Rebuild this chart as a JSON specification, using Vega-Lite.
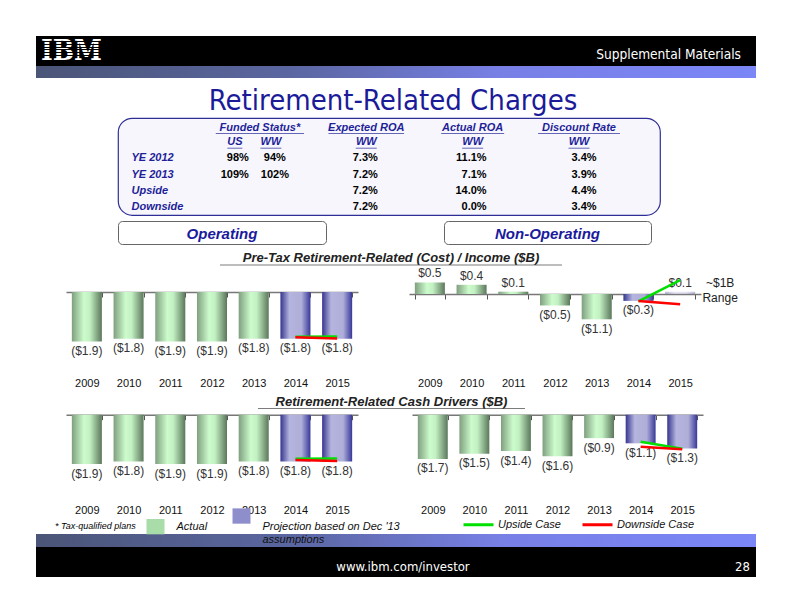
{
"$schema":"https://vega.github.io/schema/vega-lite/v6.json",
"padding":0,
"background":"white",
"config":{"view":{"stroke":null},"font":"Liberation Sans","concat":{"spacing":0},"axis":{"labelFont":"Liberation Sans"},"legend":{"labelFont":"Liberation Sans","titleFont":"Liberation Sans"}},
"datasets":{
"bars":[
{"panel":"Operating pre-tax","year":"2009","value":-1.9,"status":"Actual"},
{"panel":"Operating pre-tax","year":"2010","value":-1.8,"status":"Actual"},
{"panel":"Operating pre-tax","year":"2011","value":-1.9,"status":"Actual"},
{"panel":"Operating pre-tax","year":"2012","value":-1.9,"status":"Actual"},
{"panel":"Operating pre-tax","year":"2013","value":-1.8,"status":"Actual"},
{"panel":"Operating pre-tax","year":"2014","value":-1.8,"status":"Projection based on Dec '13 assumptions"},
{"panel":"Operating pre-tax","year":"2015","value":-1.8,"status":"Projection based on Dec '13 assumptions"},
{"panel":"Non-operating pre-tax","year":"2009","value":0.5,"status":"Actual"},
{"panel":"Non-operating pre-tax","year":"2010","value":0.4,"status":"Actual"},
{"panel":"Non-operating pre-tax","year":"2011","value":0.1,"status":"Actual"},
{"panel":"Non-operating pre-tax","year":"2012","value":-0.5,"status":"Actual"},
{"panel":"Non-operating pre-tax","year":"2013","value":-1.1,"status":"Actual"},
{"panel":"Non-operating pre-tax","year":"2014","value":-0.3,"status":"Projection based on Dec '13 assumptions"},
{"panel":"Non-operating pre-tax","year":"2015","value":0.1,"status":"Projection based on Dec '13 assumptions"},
{"panel":"Operating cash","year":"2009","value":-1.9,"status":"Actual"},
{"panel":"Operating cash","year":"2010","value":-1.8,"status":"Actual"},
{"panel":"Operating cash","year":"2011","value":-1.9,"status":"Actual"},
{"panel":"Operating cash","year":"2012","value":-1.9,"status":"Actual"},
{"panel":"Operating cash","year":"2013","value":-1.8,"status":"Actual"},
{"panel":"Operating cash","year":"2014","value":-1.8,"status":"Projection based on Dec '13 assumptions"},
{"panel":"Operating cash","year":"2015","value":-1.8,"status":"Projection based on Dec '13 assumptions"},
{"panel":"Non-operating cash","year":"2009","value":-1.7,"status":"Actual"},
{"panel":"Non-operating cash","year":"2010","value":-1.5,"status":"Actual"},
{"panel":"Non-operating cash","year":"2011","value":-1.4,"status":"Actual"},
{"panel":"Non-operating cash","year":"2012","value":-1.6,"status":"Actual"},
{"panel":"Non-operating cash","year":"2013","value":-0.9,"status":"Actual"},
{"panel":"Non-operating cash","year":"2014","value":-1.1,"status":"Projection based on Dec '13 assumptions"},
{"panel":"Non-operating cash","year":"2015","value":-1.3,"status":"Projection based on Dec '13 assumptions"}
],
"cases":[
{"panel":"Operating pre-tax","year":"2014","value":-1.72,"case":"Upside Case"},
{"panel":"Operating pre-tax","year":"2015","value":-1.71,"case":"Upside Case"},
{"panel":"Operating pre-tax","year":"2014","value":-1.74,"case":"Downside Case"},
{"panel":"Operating pre-tax","year":"2015","value":-1.79,"case":"Downside Case"},
{"panel":"Non-operating pre-tax","year":"2014","value":-0.32,"case":"Upside Case"},
{"panel":"Non-operating pre-tax","year":"2015","value":0.6,"case":"Upside Case"},
{"panel":"Non-operating pre-tax","year":"2014","value":-0.3,"case":"Downside Case"},
{"panel":"Non-operating pre-tax","year":"2015","value":-0.45,"case":"Downside Case"},
{"panel":"Operating cash","year":"2014","value":-1.69,"case":"Upside Case"},
{"panel":"Operating cash","year":"2015","value":-1.68,"case":"Upside Case"},
{"panel":"Operating cash","year":"2014","value":-1.74,"case":"Downside Case"},
{"panel":"Operating cash","year":"2015","value":-1.78,"case":"Downside Case"},
{"panel":"Non-operating cash","year":"2014","value":-1.04,"case":"Upside Case"},
{"panel":"Non-operating cash","year":"2015","value":-1.31,"case":"Upside Case"},
{"panel":"Non-operating cash","year":"2014","value":-1.23,"case":"Downside Case"},
{"panel":"Non-operating cash","year":"2015","value":-1.33,"case":"Downside Case"}
],
"table":[
{"kind":"head","row":"h1","col":"Funded Status*","sub":"","t":"Funded Status*"},
{"kind":"head","row":"h1","col":"Expected ROA","sub":"","t":"Expected ROA"},
{"kind":"head","row":"h1","col":"Actual ROA","sub":"","t":"Actual ROA"},
{"kind":"head","row":"h1","col":"Discount Rate","sub":"","t":"Discount Rate"},
{"kind":"sub","row":"h2","col":"Funded Status*","sub":"US","t":"US"},
{"kind":"sub","row":"h2","col":"Funded Status*","sub":"WW","t":"WW"},
{"kind":"sub","row":"h2","col":"Expected ROA","sub":"WW","t":"WW"},
{"kind":"sub","row":"h2","col":"Actual ROA","sub":"WW","t":"WW"},
{"kind":"sub","row":"h2","col":"Discount Rate","sub":"WW","t":"WW"},
{"kind":"label","row":"YE 2012","col":"Scenario","sub":"","t":"YE 2012"},
{"kind":"label","row":"YE 2013","col":"Scenario","sub":"","t":"YE 2013"},
{"kind":"label","row":"Upside","col":"Scenario","sub":"","t":"Upside"},
{"kind":"label","row":"Downside","col":"Scenario","sub":"","t":"Downside"},
{"kind":"val","row":"YE 2012","col":"Funded Status*","sub":"US","t":"98%"},
{"kind":"val","row":"YE 2012","col":"Funded Status*","sub":"WW","t":"94%"},
{"kind":"val","row":"YE 2012","col":"Expected ROA","sub":"WW","t":"7.3%"},
{"kind":"val","row":"YE 2012","col":"Actual ROA","sub":"WW","t":"11.1%"},
{"kind":"val","row":"YE 2012","col":"Discount Rate","sub":"WW","t":"3.4%"},
{"kind":"val","row":"YE 2013","col":"Funded Status*","sub":"US","t":"109%"},
{"kind":"val","row":"YE 2013","col":"Funded Status*","sub":"WW","t":"102%"},
{"kind":"val","row":"YE 2013","col":"Expected ROA","sub":"WW","t":"7.2%"},
{"kind":"val","row":"YE 2013","col":"Actual ROA","sub":"WW","t":"7.1%"},
{"kind":"val","row":"YE 2013","col":"Discount Rate","sub":"WW","t":"3.9%"},
{"kind":"val","row":"Upside","col":"Expected ROA","sub":"WW","t":"7.2%"},
{"kind":"val","row":"Upside","col":"Actual ROA","sub":"WW","t":"14.0%"},
{"kind":"val","row":"Upside","col":"Discount Rate","sub":"WW","t":"4.4%"},
{"kind":"val","row":"Downside","col":"Expected ROA","sub":"WW","t":"7.2%"},
{"kind":"val","row":"Downside","col":"Actual ROA","sub":"WW","t":"0.0%"},
{"kind":"val","row":"Downside","col":"Discount Rate","sub":"WW","t":"3.4%"}
]
},
"spacing":0,
"vconcat":[
{"width":792,"height":36,"data":{"values":[]},"mark":"point"},
{"spacing":0,"bounds":"flush","hconcat":[
 {"width":36,"height":30,"data":{"values":[]},"mark":"point"},
 {"width":720,"height":30,"view":{"fill":"#000000","stroke":null},
  "data":{"values":[{"t":"IBM"},{"t":"Supplemental Materials"}]},
  "encoding":{"x":{"field":"t","type":"nominal","scale":{"type":"point","domain":["IBM","Supplemental Materials"],"padding":0},"axis":null},"text":{"field":"t"}},
  "layer":[
   {"transform":[{"filter":"datum.t == 'IBM'"}],"mark":{"type":"text","align":"left","baseline":"middle","dx":5,"dy":1,"font":"DejaVu Serif Condensed, DejaVu Serif","fontWeight":"bold","fontSize":28,
     "fill":{"gradient":"linear","x1":0,"y1":0,"x2":0,"y2":1,"stops":[{"offset":0,"color":"#ffffff"},{"offset":0.2243,"color":"#ffffff"},{"offset":0.2243,"color":"#000000"},{"offset":0.2515,"color":"#000000"},{"offset":0.2515,"color":"#ffffff"},{"offset":0.3058,"color":"#ffffff"},{"offset":0.3058,"color":"#000000"},{"offset":0.333,"color":"#000000"},{"offset":0.333,"color":"#ffffff"},{"offset":0.3873,"color":"#ffffff"},{"offset":0.3873,"color":"#000000"},{"offset":0.4145,"color":"#000000"},{"offset":0.4145,"color":"#ffffff"},{"offset":0.4688,"color":"#ffffff"},{"offset":0.4688,"color":"#000000"},{"offset":0.496,"color":"#000000"},{"offset":0.496,"color":"#ffffff"},{"offset":0.5503,"color":"#ffffff"},{"offset":0.5503,"color":"#000000"},{"offset":0.5775,"color":"#000000"},{"offset":0.5775,"color":"#ffffff"},{"offset":0.6318,"color":"#ffffff"},{"offset":0.6318,"color":"#000000"},{"offset":0.659,"color":"#000000"},{"offset":0.659,"color":"#ffffff"},{"offset":0.7133,"color":"#ffffff"},{"offset":0.7133,"color":"#000000"},{"offset":0.7405,"color":"#000000"},{"offset":0.7405,"color":"#ffffff"},{"offset":1,"color":"#ffffff"}]}}},
   {"transform":[{"filter":"datum.t != 'IBM'"}],"mark":{"type":"text","align":"right","baseline":"middle","dx":-15,"dy":4,"font":"DejaVu Sans Condensed, Liberation Sans","fontSize":13.6,"color":"#ffffff"}}
  ]}
]},
{"spacing":0,"bounds":"flush","hconcat":[
 {"width":36,"height":12,"data":{"values":[]},"mark":"point"},
 {"width":720,"height":12,"view":{"stroke":null,"fill":{"gradient":"linear","x1":0,"y1":0,"x2":1,"y2":0,"stops":[{"offset":0,"color":"#4b5578"},{"offset":0.35,"color":"#5a66a0"},{"offset":0.65,"color":"#7880e6"},{"offset":1,"color":"#7b86f7"}]}},"data":{"values":[]},"mark":"point"}
]},
{"spacing":0,"bounds":"flush","hconcat":[
 {"width":36,"height":39,"data":{"values":[]},"mark":"point"},
 {"width":720,"height":39,"data":{"values":[{"t":"Retirement-Related Charges"}]},"mark":{"type":"text","baseline":"alphabetic","dx":-3,"dy":12.2,"font":"DejaVu Sans Condensed, Liberation Sans","fontSize":29,"color":"#1b1b9a"},"encoding":{"text":{"field":"t"}}}
]},
{"spacing":0,"bounds":"flush","hconcat":[
 {"width":118,"height":97,"data":{"values":[]},"mark":"point"},
 {"width":542,"height":97,
  "view":{"fill":"#f6f6fc","stroke":"#2e2e96","strokeWidth":1.2,"cornerRadius":14},
  "data":{"name":"table"},
  "transform":[{"calculate":"datum.t == 'WW' ? 21 : datum.t == 'US' ? 15 : length(datum.t) * 6.3","as":"uw"}],
  "encoding":{
   "x":{"field":"col","type":"nominal","scale":{"type":"point","domain":["Scenario","Funded Status*","Expected ROA","Actual ROA","Discount Rate"],"range":[36.5,462],"padding":0},"axis":null},
   "y":{"field":"row","type":"nominal","scale":{"type":"point","domain":["h1","h2","YE 2012","YE 2013","Upside","Downside"],"range":[9.5,90.5],"padding":0},"axis":null}
  },
  "layer":[
   {"transform":[{"filter":"datum.kind == 'head'"}],"mark":{"type":"text","fontSize":11,"fontWeight":"bold","fontStyle":"italic","color":"#1f1f99","dx":-1},"encoding":{"text":{"field":"t"}}},
   {"transform":[{"filter":"datum.kind == 'head'"}],"mark":{"type":"tick","orient":"horizontal","thickness":1,"color":"#2a2a9a","xOffset":-1,"yOffset":6},"encoding":{"size":{"field":"uw","type":"quantitative","scale":null}}},
   {"transform":[{"filter":"datum.kind == 'sub' && datum.sub == 'US'"}],"mark":{"type":"text","fontSize":11,"fontWeight":"bold","fontStyle":"italic","color":"#1f1f99","dx":-26,"dy":-1.5},"encoding":{"text":{"field":"t"}}},
   {"transform":[{"filter":"datum.kind == 'sub' && datum.sub == 'US'"}],"mark":{"type":"tick","orient":"horizontal","thickness":1,"color":"#2a2a9a","xOffset":-26,"yOffset":4.5},"encoding":{"size":{"field":"uw","type":"quantitative","scale":null}}},
   {"transform":[{"filter":"datum.kind == 'sub' && datum.sub == 'WW' && datum.col == 'Funded Status*'"}],"mark":{"type":"text","fontSize":11,"fontWeight":"bold","fontStyle":"italic","color":"#1f1f99","dx":10,"dy":-1.5},"encoding":{"text":{"field":"t"}}},
   {"transform":[{"filter":"datum.kind == 'sub' && datum.sub == 'WW' && datum.col == 'Funded Status*'"}],"mark":{"type":"tick","orient":"horizontal","thickness":1,"color":"#2a2a9a","xOffset":10,"yOffset":4.5},"encoding":{"size":{"field":"uw","type":"quantitative","scale":null}}},
   {"transform":[{"filter":"datum.kind == 'sub' && datum.col != 'Funded Status*'"}],"mark":{"type":"text","fontSize":11,"fontWeight":"bold","fontStyle":"italic","color":"#1f1f99","dx":-1,"dy":-1.5},"encoding":{"text":{"field":"t"}}},
   {"transform":[{"filter":"datum.kind == 'sub' && datum.col != 'Funded Status*'"}],"mark":{"type":"tick","orient":"horizontal","thickness":1,"color":"#2a2a9a","xOffset":-1,"yOffset":4.5},"encoding":{"size":{"field":"uw","type":"quantitative","scale":null}}},
   {"transform":[{"filter":"datum.kind == 'label'"}],"mark":{"type":"text","align":"left","fontSize":11,"fontWeight":"bold","fontStyle":"italic","color":"#1f1f99","dx":-23,"dy":-1.5},"encoding":{"text":{"field":"t"}}},
   {"transform":[{"filter":"datum.kind == 'val' && datum.sub == 'US'"}],"mark":{"type":"text","align":"right","fontSize":11,"fontWeight":"bold","color":"#000000","dx":-12,"dy":-1.5},"encoding":{"text":{"field":"t"}}},
   {"transform":[{"filter":"datum.kind == 'val' && datum.sub == 'WW' && datum.col == 'Funded Status*'"}],"mark":{"type":"text","fontSize":11,"fontWeight":"bold","color":"#000000","dx":14,"dy":-1.5},"encoding":{"text":{"field":"t"}}},
   {"transform":[{"filter":"datum.kind == 'val' && datum.col == 'Expected ROA'"}],"mark":{"type":"text","fontSize":11,"fontWeight":"bold","color":"#000000","dx":-2,"dy":-1.5},"encoding":{"text":{"field":"t"}}},
   {"transform":[{"filter":"datum.kind == 'val' && datum.col == 'Actual ROA'"}],"mark":{"type":"text","align":"right","fontSize":11,"fontWeight":"bold","color":"#000000","dx":13,"dy":-1.5},"encoding":{"text":{"field":"t"}}},
   {"transform":[{"filter":"datum.kind == 'val' && datum.col == 'Discount Rate'"}],"mark":{"type":"text","fontSize":11,"fontWeight":"bold","color":"#000000","dx":4,"dy":-1.5},"encoding":{"text":{"field":"t"}}}
  ]}
]},
{"width":792,"height":4,"data":{"values":[]},"mark":"point"},
{"spacing":0,"bounds":"flush","hconcat":[
 {"width":118,"height":23,"data":{"values":[]},"mark":"point"},
 {"width":208,"height":23,"view":{"fill":"#ffffff","stroke":"#666666","strokeWidth":1,"cornerRadius":4},"data":{"values":[{"t":"Operating"}]},"mark":{"type":"text","fontSize":15,"fontWeight":"bold","fontStyle":"italic","color":"#1a1a9c","dy":1},"encoding":{"text":{"field":"t"}}},
 {"width":118,"height":23,"data":{"values":[]},"mark":"point"},
 {"width":207,"height":23,"view":{"fill":"#ffffff","stroke":"#666666","strokeWidth":1,"cornerRadius":4},"data":{"values":[{"t":"Non-Operating"}]},"mark":{"type":"text","fontSize":15,"fontWeight":"bold","fontStyle":"italic","color":"#1a1a9c","dy":1},"encoding":{"text":{"field":"t"}}}
]},
{"spacing":0,"bounds":"flush","hconcat":[
 {"width":36,"height":22,"data":{"values":[]},"mark":"point"},
 {"width":720,"height":22,"data":{"values":[{"t":"Pre-Tax Retirement-Related (Cost) / Income ($B)"}]},
  "layer":[
   {"mark":{"type":"text","fontSize":13,"fontWeight":"bold","fontStyle":"italic","color":"#222222","dx":-5,"dy":2.1},"encoding":{"text":{"field":"t"}}},
   {"mark":{"type":"tick","orient":"horizontal","thickness":1.2,"color":"#444444","xOffset":-5,"yOffset":9},"encoding":{"size":{"value":342}}}
  ]}
]},
{"spacing":0,"bounds":"flush","hconcat":[
 {"width":66,"height":124,"data":{"values":[]},"mark":"point"},
 {"width":292,"height":124,"data":{"name":"bars"},"transform":[{"filter":"datum.panel == 'Operating pre-tax'"}],
  "encoding":{
   "x":{"field":"year","type":"ordinal","scale":{"paddingInner":0.28,"paddingOuter":0.14},"axis":{"orient":"bottom","offset":-100,"title":null,"labelAngle":0,"labelPadding":80.5,"tickBand":"extent","tickSize":5,"tickColor":"#555555","domainColor":"#777777","domainWidth":1.5,"labelFontSize":11,"labelColor":"#111111","grid":false}},
   "y":{"field":"value","type":"quantitative","scale":{"domain":[-3.846,0.923],"nice":false,"zero":false},"axis":null}
  },
  "layer":[
   {"mark":{"type":"bar"},"encoding":{"y2":{"datum":0},"fill":{"condition":{"test":"datum.status == 'Actual'","value":{"gradient":"linear","x1":0,"y1":0,"x2":1,"y2":0,"stops":[{"offset":0,"color":"#7f9f7f"},{"offset":0.4,"color":"#ccfbcc"},{"offset":0.6,"color":"#c2f0c2"},{"offset":1,"color":"#5b775b"}]}},"value":{"gradient":"linear","x1":0,"y1":0,"x2":1,"y2":0,"stops":[{"offset":0,"color":"#35358f"},{"offset":0.3,"color":"#b4b4de"},{"offset":0.7,"color":"#aeaed9"},{"offset":1,"color":"#38389a"}]}}}},
   {"transform":[{"filter":"datum.value < 0"}],"mark":{"type":"text","baseline":"top","dy":4.5,"fontSize":12,"color":"#333333"},"encoding":{"text":{"field":"value","type":"quantitative","format":"($.1f"}}},
   {"data":{"values":[]},"mark":{"type":"square"},"encoding":{"fill":{"field":"status","type":"nominal","scale":{"domain":["Actual","Projection based on Dec '13 assumptions"],"range":["#a8dca8","#8e8ecc"]},
     "legend":{"orient":"none","legendX":55,"legendY":507,"direction":"horizontal","title":"* Tax-qualified plans","titleOrient":"left","titleFontStyle":"italic","titleFontWeight":"normal","titleFontSize":9,"titleColor":"#000000","titlePadding":10.5,"symbolType":"M-1,-0.85L1,-0.85L1,0.85L-1,0.85Z","symbolSize":324,"symbolStrokeWidth":0,"symbolOpacity":1,"labelFontSize":11,"labelFontStyle":"italic","labelColor":"#111111","labelOffset":12,"columnPadding":25,"labelLimit":400,"padding":0,
      "labelExpr":"datum.label == 'Actual' ? datum.label : [\"Projection based on Dec '13\", \"assumptions\"]",
      "encode":{"title":{"update":{"dy":{"value":0.4}}},"labels":{"update":{"dy":{"signal":"datum.label == 'Actual' ? 0 : 10.65"},"lineHeight":{"value":13.3}}},"symbols":{"update":{"fill":{"signal":"datum.value == 'Actual' ? {gradient:'linear',x1:0,y1:0,x2:1,y2:0,stops:[{offset:0,color:'#7f9f7f'},{offset:0.4,color:'#ccfbcc'},{offset:0.6,color:'#c2f0c2'},{offset:1,color:'#5b775b'}]} : {gradient:'linear',x1:0,y1:0,x2:1,y2:0,stops:[{offset:0,color:'#35358f'},{offset:0.3,color:'#b4b4de'},{offset:0.7,color:'#aeaed9'},{offset:1,color:'#38389a'}]}"}}}}}}}},
   {"data":{"name":"cases"},"transform":[{"filter":"datum.panel == 'Operating pre-tax'"}],"mark":{"type":"line","strokeWidth":2.5},"encoding":{"stroke":{"field":"case","type":"nominal","scale":{"domain":["Upside Case","Downside Case"],"range":["#00e000","#ff0000"]},"legend":{"orient":"none","legendX":462,"legendY":508,"direction":"horizontal","title":null,"symbolType":"stroke","symbolSize":900,"symbolStrokeWidth":3,"labelFontSize":11,"labelFontStyle":"italic","labelColor":"#111111","labelOffset":3,"columnPadding":15,"padding":0}}}}
  ]},
 {"width":51,"height":124,"data":{"values":[]},"mark":"point"},
 {"width":292,"height":124,"data":{"name":"bars"},"transform":[{"filter":"datum.panel == 'Non-operating pre-tax'"}],
  "encoding":{
   "x":{"field":"year","type":"ordinal","scale":{"paddingInner":0.28,"paddingOuter":0.14},"axis":{"orient":"bottom","offset":-98,"title":null,"labelAngle":0,"labelPadding":78.5,"tickBand":"extent","tickSize":5,"tickColor":"#555555","domainColor":"#777777","domainWidth":1.5,"labelFontSize":11,"labelColor":"#111111","grid":false}},
   "y":{"field":"value","type":"quantitative","scale":{"domain":[-4.261,1.13],"nice":false,"zero":false},"axis":null}
  },
  "layer":[
   {"mark":{"type":"bar"},"encoding":{"y2":{"datum":0},"opacity":{"condition":{"test":"datum.year == '2015'","value":0.35},"value":1},"fill":{"condition":{"test":"datum.status == 'Actual'","value":{"gradient":"linear","x1":0,"y1":0,"x2":1,"y2":0,"stops":[{"offset":0,"color":"#7f9f7f"},{"offset":0.4,"color":"#ccfbcc"},{"offset":0.6,"color":"#c2f0c2"},{"offset":1,"color":"#5b775b"}]}},"value":{"gradient":"linear","x1":0,"y1":0,"x2":1,"y2":0,"stops":[{"offset":0,"color":"#35358f"},{"offset":0.3,"color":"#b4b4de"},{"offset":0.7,"color":"#aeaed9"},{"offset":1,"color":"#38389a"}]}}}},
   {"transform":[{"filter":"datum.value < 0"}],"mark":{"type":"text","baseline":"top","dy":4.5,"fontSize":12,"color":"#333333"},"encoding":{"text":{"field":"value","type":"quantitative","format":"($.1f"}}},
   {"transform":[{"filter":"datum.value >= 0"}],"mark":{"type":"text","baseline":"bottom","dy":-2,"fontSize":12,"color":"#333333"},"encoding":{"text":{"field":"value","type":"quantitative","format":"($.1f"}}},
   {"transform":[{"filter":"datum.year == '2015'"}],"mark":{"type":"text","align":"center","baseline":"top","dx":40,"dy":-16,"fontSize":12,"color":"#222222","lineHeight":15},"encoding":{"y":{"datum":0},"text":{"value":["~$1B","Range"]}}},
   {"data":{"name":"cases"},"transform":[{"filter":"datum.panel == 'Non-operating pre-tax'"}],"mark":{"type":"line","strokeWidth":2.5},"encoding":{"stroke":{"field":"case","type":"nominal","scale":{"domain":["Upside Case","Downside Case"],"range":["#00e000","#ff0000"]},"legend":{"orient":"none","legendX":462,"legendY":508,"direction":"horizontal","title":null,"symbolType":"stroke","symbolSize":900,"symbolStrokeWidth":3,"labelFontSize":11,"labelFontStyle":"italic","labelColor":"#111111","labelOffset":3,"columnPadding":15,"padding":0}}}}
  ]}
]},
{"spacing":0,"bounds":"flush","hconcat":[
 {"width":36,"height":18,"data":{"values":[]},"mark":"point"},
 {"width":720,"height":18,"data":{"values":[{"t":"Retirement-Related Cash Drivers ($B)"}]},
  "layer":[
   {"mark":{"type":"text","fontSize":13,"fontWeight":"bold","fontStyle":"italic","color":"#222222","dx":-4.5,"dy":1},"encoding":{"text":{"field":"t"}}},
   {"mark":{"type":"tick","orient":"horizontal","thickness":1.2,"color":"#444444","xOffset":-4.5,"yOffset":7.5},"encoding":{"size":{"value":267}}}
  ]}
]},
{"spacing":0,"bounds":"flush","hconcat":[
 {"width":66,"height":108,"data":{"values":[]},"mark":"point"},
 {"width":292,"height":108,"data":{"name":"bars"},"transform":[{"filter":"datum.panel == 'Operating cash'"}],
  "encoding":{
   "x":{"field":"year","type":"ordinal","scale":{"paddingInner":0.28,"paddingOuter":0.14},"axis":{"orient":"bottom","offset":-103.3,"title":null,"labelAngle":0,"labelPadding":84.8,"tickBand":"extent","tickSize":5,"tickColor":"#555555","domainColor":"#777777","domainWidth":1.5,"labelFontSize":11,"labelColor":"#111111","grid":false}},
   "y":{"field":"value","type":"quantitative","scale":{"domain":[-3.973,0.181],"nice":false,"zero":false},"axis":null}
  },
  "layer":[
   {"mark":{"type":"bar"},"encoding":{"y2":{"datum":0},"fill":{"condition":{"test":"datum.status == 'Actual'","value":{"gradient":"linear","x1":0,"y1":0,"x2":1,"y2":0,"stops":[{"offset":0,"color":"#7f9f7f"},{"offset":0.4,"color":"#ccfbcc"},{"offset":0.6,"color":"#c2f0c2"},{"offset":1,"color":"#5b775b"}]}},"value":{"gradient":"linear","x1":0,"y1":0,"x2":1,"y2":0,"stops":[{"offset":0,"color":"#35358f"},{"offset":0.3,"color":"#b4b4de"},{"offset":0.7,"color":"#aeaed9"},{"offset":1,"color":"#38389a"}]}}}},
   {"transform":[{"filter":"datum.value < 0"}],"mark":{"type":"text","baseline":"top","dy":4.5,"fontSize":12,"color":"#333333"},"encoding":{"text":{"field":"value","type":"quantitative","format":"($.1f"}}},
   {"data":{"name":"cases"},"transform":[{"filter":"datum.panel == 'Operating cash'"}],"mark":{"type":"line","strokeWidth":2.5},"encoding":{"stroke":{"field":"case","type":"nominal","scale":{"domain":["Upside Case","Downside Case"],"range":["#00e000","#ff0000"]},"legend":{"orient":"none","legendX":462,"legendY":508,"direction":"horizontal","title":null,"symbolType":"stroke","symbolSize":900,"symbolStrokeWidth":3,"labelFontSize":11,"labelFontStyle":"italic","labelColor":"#111111","labelOffset":3,"columnPadding":15,"padding":0}}}}
  ]},
 {"width":54,"height":108,"data":{"values":[]},"mark":"point"},
 {"width":291,"height":108,"data":{"name":"bars"},"transform":[{"filter":"datum.panel == 'Non-operating cash'"}],
  "encoding":{
   "x":{"field":"year","type":"ordinal","scale":{"paddingInner":0.28,"paddingOuter":0.14},"axis":{"orient":"bottom","offset":-103.3,"title":null,"labelAngle":0,"labelPadding":84.8,"tickBand":"extent","tickSize":5,"tickColor":"#555555","domainColor":"#777777","domainWidth":1.5,"labelFontSize":11,"labelColor":"#111111","grid":false}},
   "y":{"field":"value","type":"quantitative","scale":{"domain":[-3.973,0.181],"nice":false,"zero":false},"axis":null}
  },
  "layer":[
   {"mark":{"type":"bar"},"encoding":{"y2":{"datum":0},"fill":{"condition":{"test":"datum.status == 'Actual'","value":{"gradient":"linear","x1":0,"y1":0,"x2":1,"y2":0,"stops":[{"offset":0,"color":"#7f9f7f"},{"offset":0.4,"color":"#ccfbcc"},{"offset":0.6,"color":"#c2f0c2"},{"offset":1,"color":"#5b775b"}]}},"value":{"gradient":"linear","x1":0,"y1":0,"x2":1,"y2":0,"stops":[{"offset":0,"color":"#35358f"},{"offset":0.3,"color":"#b4b4de"},{"offset":0.7,"color":"#aeaed9"},{"offset":1,"color":"#38389a"}]}}}},
   {"transform":[{"filter":"datum.value < 0"}],"mark":{"type":"text","baseline":"top","dy":4.5,"fontSize":12,"color":"#333333"},"encoding":{"text":{"field":"value","type":"quantitative","format":"($.1f"}}},
   {"data":{"name":"cases"},"transform":[{"filter":"datum.panel == 'Non-operating cash'"}],"mark":{"type":"line","strokeWidth":2.5},"encoding":{"stroke":{"field":"case","type":"nominal","scale":{"domain":["Upside Case","Downside Case"],"range":["#00e000","#ff0000"]},"legend":{"orient":"none","legendX":462,"legendY":508,"direction":"horizontal","title":null,"symbolType":"stroke","symbolSize":900,"symbolStrokeWidth":3,"labelFontSize":11,"labelFontStyle":"italic","labelColor":"#111111","labelOffset":3,"columnPadding":15,"padding":0}}}}
  ]}
]},
{"width":792,"height":16,"data":{"values":[]},"mark":"point"},
{"spacing":0,"bounds":"flush","hconcat":[
 {"width":36,"height":13,"data":{"values":[]},"mark":"point"},
 {"width":720,"height":13,"view":{"stroke":null,"fill":{"gradient":"linear","x1":0,"y1":0,"x2":1,"y2":0,"stops":[{"offset":0,"color":"#4b5578"},{"offset":0.35,"color":"#5a66a0"},{"offset":0.65,"color":"#7880e6"},{"offset":1,"color":"#7b86f7"}]}},"data":{"values":[]},"mark":"point"}
]},
{"spacing":0,"bounds":"flush","hconcat":[
 {"width":36,"height":30,"data":{"values":[]},"mark":"point"},
 {"width":720,"height":30,"view":{"fill":"#000000","stroke":null},
  "data":{"values":[{"t":"www.ibm.com/investor"},{"t":"28"}]},
  "layer":[
   {"transform":[{"filter":"datum.t != '28'"}],"mark":{"type":"text","baseline":"middle","dx":7,"dy":5,"font":"DejaVu Sans Condensed, Liberation Sans","fontSize":13,"color":"#ffffff"},"encoding":{"text":{"field":"t"}}},
   {"transform":[{"filter":"datum.t == '28'"}],"mark":{"type":"text","align":"right","baseline":"middle","dx":-6,"dy":5,"font":"DejaVu Sans Condensed, Liberation Sans","fontSize":13,"color":"#ffffff"},"encoding":{"x":{"field":"t","type":"nominal","scale":{"type":"point","domain":["28"],"padding":0,"align":1},"axis":null},"text":{"field":"t"}}}
  ]}
]}
]
}
